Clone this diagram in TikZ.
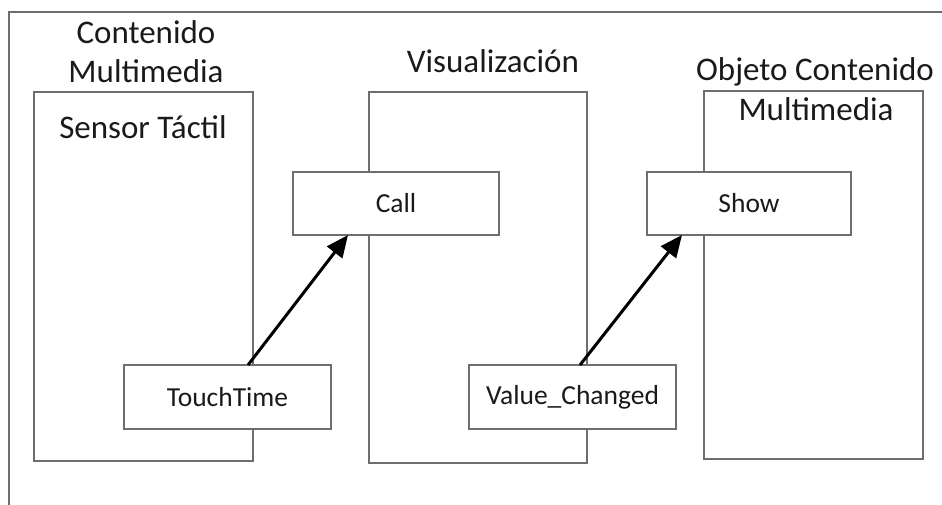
\documentclass[tikz,border=0pt]{standalone}
\usepackage{fontspec}
\setmainfont{Carlito}
\usetikzlibrary{arrows.meta}
\definecolor{frame}{HTML}{6E6E6E}
\definecolor{ink}{HTML}{1A1A1A}
\begin{document}
\begin{tikzpicture}[x=1pt,y=-1pt,
  lifeline/.style={draw=frame,line width=2pt},
  msgbox/.style={draw=frame,line width=2pt,fill=white},
  title/.style={anchor=base,text=ink,inner sep=0pt,font=\fontsize{33}{39}\selectfont},
  label/.style={text=ink,inner sep=0pt,font=\fontsize{27.5}{32}\selectfont},
  signal/.style={line width=3pt,-{Triangle[length=22pt,width=19pt]}}]
\useasboundingbox (0,0) rectangle (942,504);
% outer frame (runs off the right and bottom edges)
\draw[frame,line width=2pt] (9,505) -- (9,12) -- (943,12);

% lifelines
\draw[lifeline] (34,92) rectangle (253,461);
\draw[lifeline] (369,92) rectangle (587,463);
\draw[lifeline] (704,91) rectangle (923,459);

% lifeline titles
\node[title] (t1a) at (146,43) {Contenido};
\node[title] (t1b) at (146,82) {Multimedia};
\node[title] (t1c) at (143,138) {Sensor Táctil};
\node[title] (t2) at (493,72) {Visualización};
\node[title] (t3a) at (815,80) {Objeto Contenido};
\node[title] (t3b) at (816,120) {Multimedia};

% message boxes
\draw[msgbox] (293,172) rectangle (499,235);
\node[label] (call) at (396,203.5) {Call};
\coordinate (callin) at (348,235);

\draw[msgbox] (647,172) rectangle (851,235);
\node[label] (show) at (749,203.5) {Show};
\coordinate (showin) at (682,235);

\draw[msgbox] (124,365) rectangle (331,429);
\node[label] (touch) at (227.5,397) {TouchTime};
\coordinate (touchout) at (248,365);

\draw[msgbox] (469,365) rectangle (676,429);
\node[label] (value) at (572.5,397) {Value\_Changed};
\coordinate (valueout) at (580,365);

% signals
\draw[signal] (touchout) -- (callin);
\draw[signal] (valueout) -- (showin);
\end{tikzpicture}
\end{document}
